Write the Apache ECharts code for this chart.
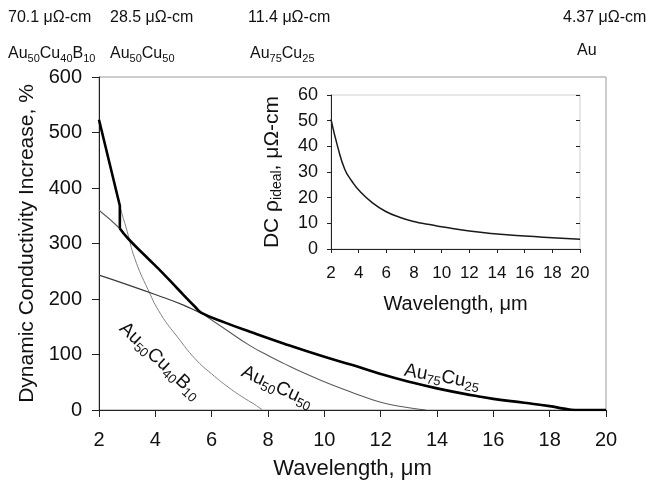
<!DOCTYPE html>
<html>
<head>
<meta charset="utf-8">
<script src="https://cdn.jsdelivr.net/npm/echarts@6/dist/echarts.min.js"></script>
<style>
html,body{margin:0;padding:0;background:#fff;}
#c{width:652px;height:485px;}
</style>
</head>
<body>
<div id="c"></div>
<script>
// ---- Data ----
// Main chart: dynamic conductivity increase (%) vs wavelength (µm)
const wlB10   = [2, 2.74, 3.0, 3.27, 3.74, 4.2, 4.81, 5.4, 6.0, 6.7, 7.2, 7.54, 7.8];
const valB10  = [523, 368, 322, 273, 217, 172, 130, 93, 65, 37, 20, 9.5, 0];

const wl5050  = [2, 2.74, 3.03, 3.74, 4.22, 4.8, 5.41, 5.64, 6.5, 7.36, 8.0, 8.55, 9.3, 10.0, 10.92, 12.0, 13.0, 13.6];
const val5050 = [360, 327, 309, 273, 249, 218, 186, 175, 145, 116, 98, 84, 66, 51, 33, 14, 4, 0];

const wl7525  = [2, 3, 4, 5, 5.6, 6.5, 7.36, 8.55, 10.0, 11.0, 12.0, 13.0, 14.0, 15.3, 16.0, 17.1, 18.0, 18.5, 18.9, 20];
const val7525 = [243, 226, 208, 189, 175, 157, 141, 120, 96, 81, 65, 51, 39, 26, 20, 13, 7, 2.5, 0, 0];

// Thick "best" envelope: first part (follows Au50Cu40B10, then drops), second part
const wlEnvA  = [2, 2.74, 2.74];
const valEnvA = [523, 368, 327];
const wlEnvB  = [2.74, 3.03, 3.74, 4.22, 4.8, 5.41, 5.64, 6.5, 7.36, 8.55, 10.0, 11.0, 12.0, 13.0, 14.0, 15.3, 16.0, 17.1, 18.0, 18.5, 18.9, 20];
const valEnvB = [327, 309, 273, 249, 218, 186, 175, 157, 141, 120, 96, 81, 65, 51, 39, 26, 20, 13, 7, 2.5, 0, 0];

// Inset: DC rho_ideal (µΩ-cm) vs wavelength
const wlIdeal  = [2, 2.5, 3, 3.5, 4, 5, 6, 7, 8, 9, 10, 12, 14, 16, 18, 20];
const rhoIdeal = [50.5, 39.5, 31, 26.5, 23, 18, 14.5, 12.3, 10.7, 9.6, 8.7, 7.0, 5.85, 5.05, 4.4, 3.8];

// Text
const resistivities = ['70.1 μΩ-cm', '28.5 μΩ-cm', '11.4 μΩ-cm', '4.37 μΩ-cm'];
const alloys = ['Au{s|50}Cu{s|40}B{s|10}', 'Au{s|50}Cu{s|50}', 'Au{s|75}Cu{s|25}', 'Au'];
const curveLabels = ['Au{s|50}Cu{s|40}B{s|10}', 'Au{s|50}Cu{s|50}', 'Au{s|75}Cu{s|25}'];

// ---- Chart ----
const FONT = '"Liberation Sans", Arial, Helvetica, sans-serif';
const TXT = '#111';
const pair = (xs, ys) => xs.map((x, i) => [x, ys[i]]);

const subRich = (fs, pad) => ({
  s: { fontSize: fs, fontFamily: FONT, color: TXT, padding: [pad, 0, 0, 0] }
});
const gSubRich = (fs, pad) => ({
  s: { fontSize: fs, fontFamily: FONT, fill: TXT, padding: [pad, 0, 0, 0] }
});

const topX1 = [8, 110, 248, 563];
const topX2 = [8, 110, 250, 577];
const graphics = [];
resistivities.forEach((t, i) => {
  graphics.push({ type: 'text', x: topX1[i], y: 17.5, z: 10,
    style: { text: t, fontSize: 16, fontFamily: FONT, fill: TXT, align: 'left', verticalAlign: 'middle' } });
});
alloys.forEach((t, i) => {
  graphics.push({ type: 'text', x: topX2[i], y: i === 3 ? 51 : 54, z: 10,
    style: { text: t, fontSize: 16, fontFamily: FONT, fill: TXT, align: 'left', verticalAlign: 'middle', rich: gSubRich(11, 9) } });
});
const lblPos = [[160, 361, -43], [277, 387, -25], [442, 377, -10]];
curveLabels.forEach((t, i) => {
  graphics.push({ type: 'text', x: lblPos[i][0], y: lblPos[i][1], rotation: lblPos[i][2] * Math.PI / 180, z: 10,
    style: { text: t, fontSize: 19, fontFamily: FONT, fill: TXT, align: 'center', verticalAlign: 'middle', rich: gSubRich(13, 11) } });
});

const lineBase = { type: 'line', xAxisIndex: 0, yAxisIndex: 0, showSymbol: false, smooth: 0.5 };

const chart = echarts.init(document.getElementById('c'), null, { renderer: 'canvas' });
const option = {
  animation: false,
  backgroundColor: '#fff',
  textStyle: { fontFamily: FONT, color: TXT },
  grid: [
    { left: 99, right: 46, top: 77, bottom: 72, show: true, borderColor: '#9a9a9a', borderWidth: 1 },
    { left: 331, right: 72, top: 95, bottom: 236, show: true, borderColor: '#cfcfcf', borderWidth: 1 }
  ],
  xAxis: [
    { gridIndex: 0, type: 'value', min: 2, max: 20, interval: 2,
      name: 'Wavelength, μm', nameLocation: 'middle', nameGap: 48,
      nameTextStyle: { fontSize: 22, fontFamily: FONT, color: TXT },
      axisLine: { lineStyle: { color: '#222', width: 1 } },
      axisTick: { length: 7, lineStyle: { color: '#222' } },
      axisLabel: { fontSize: 20, margin: 20, color: TXT, fontFamily: FONT },
      splitLine: { show: false } },
    { gridIndex: 1, type: 'value', min: 2, max: 20, interval: 2,
      name: 'Wavelength, μm', nameLocation: 'middle', nameGap: 45,
      nameTextStyle: { fontSize: 20, fontFamily: FONT, color: TXT },
      axisLine: { lineStyle: { color: '#222', width: 1 } },
      axisTick: { length: 3, lineStyle: { color: '#222' } },
      axisLabel: { fontSize: 17, margin: 16, color: TXT, fontFamily: FONT },
      splitLine: { show: false } },
    { gridIndex: 1, type: 'value', min: 2, max: 20, interval: 2,
      axisLine: { show: false }, axisLabel: { show: false },
      axisTick: { inside: true, length: 4, lineStyle: { color: '#222' } },
      splitLine: { show: false } }
  ],
  yAxis: [
    { gridIndex: 0, type: 'value', min: 0, max: 600, interval: 100,
      name: 'Dynamic Conductivity Increase, %', nameLocation: 'middle', nameGap: 53,
      nameTextStyle: { fontSize: 21, fontFamily: FONT, color: TXT },
      axisLine: { show: true, lineStyle: { color: '#222', width: 1 } },
      axisTick: { show: true, length: 7, lineStyle: { color: '#222' } },
      axisLabel: { fontSize: 20, margin: 17, color: TXT, fontFamily: FONT },
      splitLine: { show: false } },
    { gridIndex: 1, type: 'value', min: 0, max: 60, interval: 10,
      name: 'DC ρ{s|ideal}, μΩ-cm', nameLocation: 'middle', nameGap: 47,
      nameTextStyle: { fontSize: 21, fontFamily: FONT, color: TXT, rich: subRich(14, 10) },
      axisLine: { show: true, lineStyle: { color: '#222', width: 1 } },
      axisTick: { show: true, length: 4, lineStyle: { color: '#222' } },
      axisLabel: { fontSize: 18, margin: 13, color: TXT, fontFamily: FONT },
      splitLine: { show: false } },
    { gridIndex: 1, type: 'value', min: 0, max: 60, interval: 10,
      axisLine: { show: false }, axisLabel: { show: false },
      axisTick: { show: true, inside: true, length: 4, lineStyle: { color: '#222' } },
      splitLine: { show: false } }
  ],
  series: [
    Object.assign({ name: 'Au50Cu40B10', data: pair(wlB10, valB10),
      lineStyle: { color: '#808080', width: 1 }, z: 2 }, lineBase),
    Object.assign({ name: 'Au50Cu50', data: pair(wl5050, val5050),
      lineStyle: { color: '#5a5a5a', width: 1.1 }, z: 2 }, lineBase),
    Object.assign({ name: 'Au75Cu25', data: pair(wl7525, val7525),
      lineStyle: { color: '#3a3a3a', width: 1.2 }, z: 2 }, lineBase),
    { name: 'envelopeA', type: 'line', xAxisIndex: 0, yAxisIndex: 0, data: pair(wlEnvA, valEnvA),
      showSymbol: false, smooth: false, lineStyle: { color: '#000', width: 2.6 }, z: 3 },
    Object.assign({ name: 'envelopeB', data: pair(wlEnvB, valEnvB),
      lineStyle: { color: '#000', width: 2.6 }, z: 3 }, lineBase),
    { name: 'rho_ideal', type: 'line', xAxisIndex: 1, yAxisIndex: 1, data: pair(wlIdeal, rhoIdeal),
      showSymbol: false, smooth: 0.5, lineStyle: { color: '#1a1a1a', width: 1.5 }, z: 4 }
  ],
  graphic: graphics
};
chart.setOption(option);
</script>
</body>
</html>
